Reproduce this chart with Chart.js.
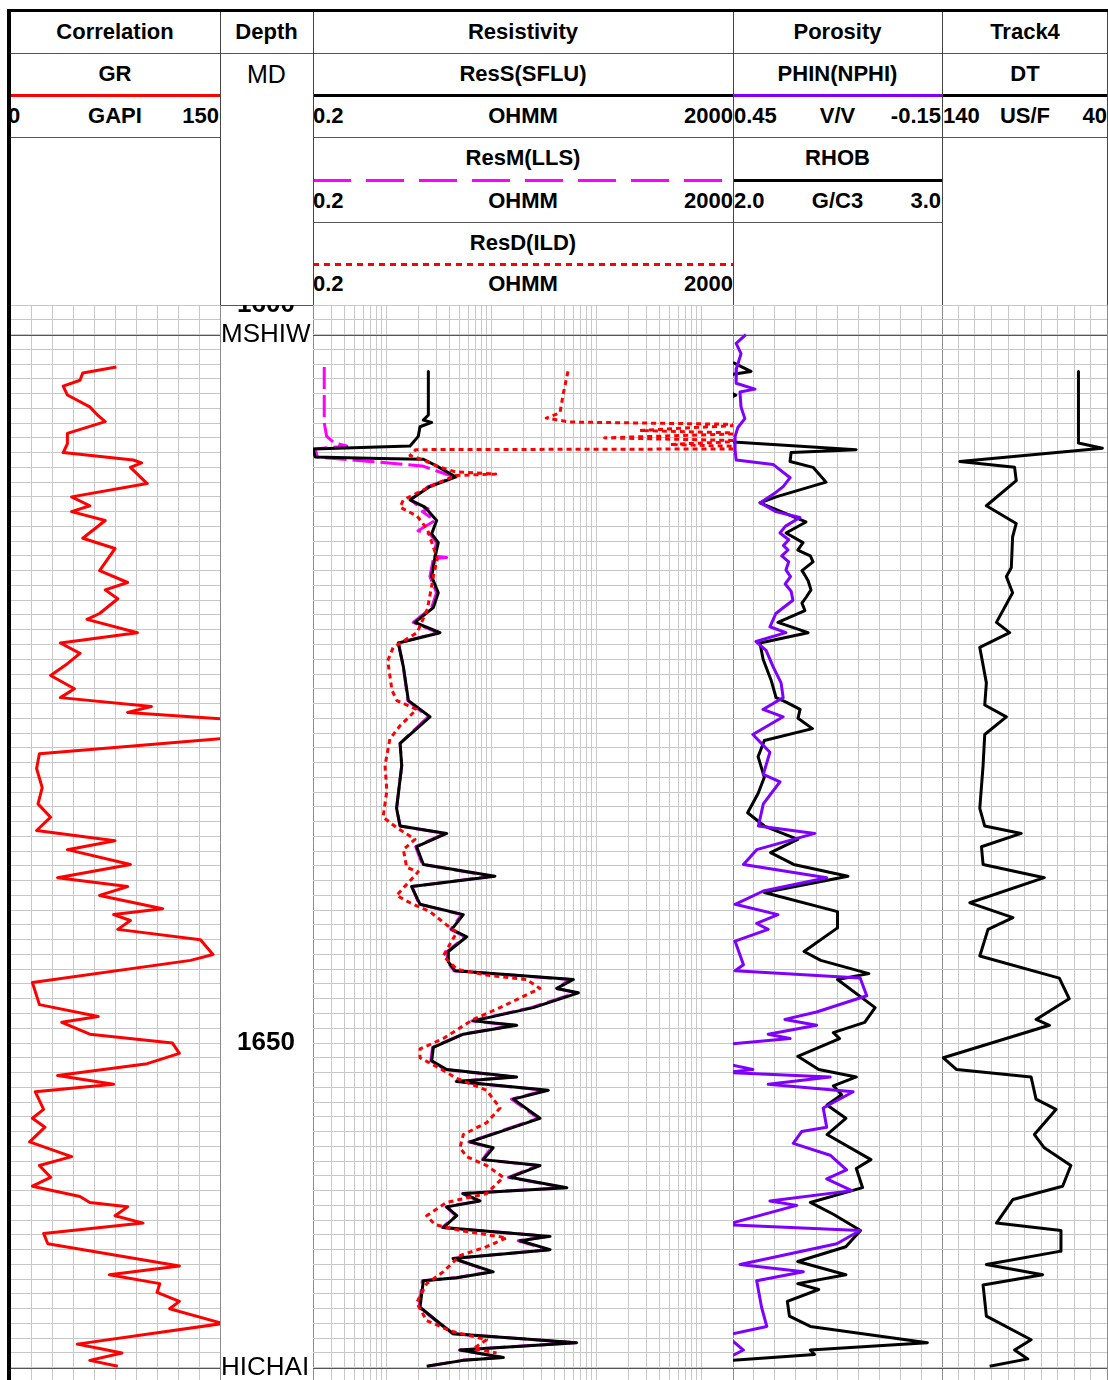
<!DOCTYPE html>
<html>
<head>
<meta charset="utf-8">
<title>Well log</title>
<script src="https://cdn.jsdelivr.net/npm/chart.js@4.4.1/dist/chart.umd.min.js"></script>
<style>
  html, body { margin: 0; padding: 0; background: #fff; }
  body { width: 1108px; height: 1380px; position: relative; overflow: hidden; font-family: "Liberation Sans", Arial, sans-serif; }
  .txt { position: absolute; height: 42px; line-height: 42px; font-size: 22px; font-weight: bold; color: #000; white-space: nowrap; }
  .c { text-align: center; }
  .l { text-align: left; }
  .r { text-align: right; }
  .hl { position: absolute; height: 1px; background: #555; }
  .vl { position: absolute; width: 1px; background: #444; }
  .bar { position: absolute; height: 3px; }
  canvas { position: absolute; top: 305px; }
  .frame { position: absolute; background: #000; z-index: 5; }
</style>
</head>
<body>

<!-- header: titles -->
<div class="txt c" style="left:10px;width:210px;top:11px">Correlation</div>
<div class="txt c" style="left:220px;width:93px;top:11px">Depth</div>
<div class="txt c" style="left:313px;width:420px;top:11px">Resistivity</div>
<div class="txt c" style="left:733px;width:209px;top:11px">Porosity</div>
<div class="txt c" style="left:942px;width:166px;top:11px">Track4</div>

<!-- curve names -->
<div class="txt c" style="left:10px;width:210px;top:53px">GR</div>
<div class="txt c" style="left:220px;width:93px;top:53px;font-weight:normal;font-size:25px">MD</div>
<div class="txt c" style="left:313px;width:420px;top:53px">ResS(SFLU)</div>
<div class="txt c" style="left:733px;width:209px;top:53px">PHIN(NPHI)</div>
<div class="txt c" style="left:942px;width:166px;top:53px">DT</div>

<!-- scale rows -->
<div class="txt l" style="left:8px;width:212px;top:95px">0</div>
<div class="txt c" style="left:10px;width:210px;top:95px">GAPI</div>
<div class="txt r" style="left:10px;width:209px;top:95px">150</div>

<div class="txt l" style="left:313px;width:420px;top:95px">0.2</div>
<div class="txt c" style="left:313px;width:420px;top:95px">OHMM</div>
<div class="txt r" style="left:313px;width:420px;top:95px">2000</div>

<div class="txt l" style="left:734px;width:208px;top:95px">0.45</div>
<div class="txt c" style="left:733px;width:209px;top:95px">V/V</div>
<div class="txt r" style="left:733px;width:208px;top:95px">-0.15</div>

<div class="txt l" style="left:943px;width:165px;top:95px">140</div>
<div class="txt c" style="left:942px;width:166px;top:95px">US/F</div>
<div class="txt r" style="left:942px;width:165px;top:95px">40</div>

<div class="txt c" style="left:313px;width:420px;top:137px">ResM(LLS)</div>
<div class="txt c" style="left:733px;width:209px;top:137px">RHOB</div>

<div class="txt l" style="left:313px;width:420px;top:180px">0.2</div>
<div class="txt c" style="left:313px;width:420px;top:180px">OHMM</div>
<div class="txt r" style="left:313px;width:420px;top:180px">2000</div>
<div class="txt l" style="left:734px;width:208px;top:180px">2.0</div>
<div class="txt c" style="left:733px;width:209px;top:180px">G/C3</div>
<div class="txt r" style="left:733px;width:208px;top:180px">3.0</div>

<div class="txt c" style="left:313px;width:420px;top:222px">ResD(ILD)</div>

<div class="txt l" style="left:313px;width:420px;top:263px">0.2</div>
<div class="txt c" style="left:313px;width:420px;top:263px">OHMM</div>
<div class="txt r" style="left:313px;width:420px;top:263px">2000</div>

<!-- header lines -->
<div class="hl" style="left:10px;width:1098px;top:53px"></div>
<div class="hl" style="left:10px;width:210px;top:137px"></div>
<div class="hl" style="left:313px;width:795px;top:137px"></div>
<div class="hl" style="left:313px;width:629px;top:222px"></div>
<div class="hl" style="left:220px;width:93px;top:305px"></div>

<div class="bar" style="left:10px;width:210px;top:94px;background:#ff0000"></div>
<div class="bar" style="left:313px;width:420px;top:94px;background:#000"></div>
<div class="bar" style="left:733px;width:209px;top:94px;background:#7f00ff"></div>
<div class="bar" style="left:942px;width:166px;top:94px;background:#000"></div>
<div class="bar" style="left:313px;width:420px;top:179px;background:repeating-linear-gradient(90deg,#ff00ff 0 38px,transparent 38px 53px)"></div>
<div class="bar" style="left:733px;width:209px;top:179px;background:#000"></div>
<div class="bar" style="left:313px;width:420px;top:263px;background:repeating-linear-gradient(90deg,#ff0000 0 6px,transparent 6px 11px)"></div>

<div class="vl" style="left:220px;top:11px;height:294px"></div>
<div class="vl" style="left:313px;top:11px;height:294px"></div>
<div class="vl" style="left:733px;top:11px;height:294px"></div>
<div class="vl" style="left:942px;top:11px;height:294px"></div>
<div class="vl" style="left:1107px;top:11px;height:294px"></div>

<!-- tracks -->
<canvas id="grTrack" width="211" height="1075" style="left:10px"></canvas>
<canvas id="depthTrack" width="93" height="1075" style="left:220px"></canvas>
<canvas id="resTrack" width="421" height="1075" style="left:313px"></canvas>
<canvas id="porTrack" width="210" height="1075" style="left:733px"></canvas>
<canvas id="dtTrack" width="166" height="1075" style="left:942px"></canvas>

<div class="frame" style="left:7px;top:9px;width:1101px;height:3px"></div>
<div class="frame" style="left:7px;top:9px;width:4px;height:1371px"></div>

<script>
// depth window and markers
const depthTop = 1600;
const depthBottom = 1672.83;
const depthLabels = [1600, 1650];
const markerNames = ['MSHIW', 'HICHAI'];
const markerDepths = [1602, 1672];

// GR (GAPI)
const grDepth = [1604.2,1604.6,1605.1,1605.5,1606.1,1606.9,1607.5,1607.9,1608.7,1609.4,1610.0,1610.5,1610.7,1611.0,1612.1,1613.0,1613.6,1614.0,1614.6,1615.8,1616.5,1618.0,1618.8,1619.3,1619.9,1620.9,1621.3,1622.2,1622.9,1623.6,1624.3,1625.1,1626.0,1626.6,1627.2,1627.6,1628.1,1629.3,1630.4,1631.4,1632.7,1633.8,1634.7,1635.6,1636.3,1636.9,1637.9,1638.8,1639.4,1640.0,1640.9,1641.3,1641.7,1642.3,1643.0,1644.0,1644.4,1645.9,1647.4,1648.2,1648.6,1649.4,1650.0,1650.7,1651.4,1652.2,1652.8,1653.3,1654.5,1655.1,1655.7,1656.7,1657.7,1658.3,1659.1,1659.7,1660.4,1660.8,1661.1,1661.7,1662.2,1662.9,1663.6,1665.1,1665.7,1666.3,1666.9,1667.5,1668.0,1669.0,1670.4,1670.7,1671.0,1671.5,1671.9];
const grValue = [76,52,50,38,41,57,63,68,41,41,38,88,94,86,98,44,57,44,68,52,75,64,84,68,77,64,55,91,36,50,41,29,46,36,101,84,160,160,21,19,23,20,29,19,75,41,86,34,84,64,109,74,86,77,136,145,129,16,21,63,37,57,116,121,98,34,74,18,24,16,25,14,44,21,29,16,50,57,84,75,95,24,27,121,71,107,105,121,114,152,48,64,80,57,77];

// ResS (SFLU), OHMM
const sfluDepth = [1604.5,1607.45,1607.8,1607.95,1608.25,1608.9,1609.55,1609.75,1610.3,1610.4,1610.45,1610.9,1611.65,1612.3,1613.2,1613.7,1614.6,1615.5,1616.1,1617.1,1618.4,1619.5,1620.5,1621.5,1622.2,1622.9,1624.5,1626.8,1627.9,1629.7,1631.2,1634.1,1635.3,1635.8,1636.7,1637.9,1638.7,1639.4,1640.6,1641.3,1642.3,1642.8,1643.8,1644.5,1645.1,1645.7,1646.3,1646.6,1647.6,1648.5,1648.8,1649.4,1650.3,1651.2,1651.8,1652.3,1652.6,1653.2,1653.8,1655.1,1656.7,1657.1,1657.9,1658.3,1659.1,1659.8,1660.2,1660.7,1661.1,1661.7,1662.5,1663.1,1663.4,1664.0,1664.6,1665.5,1665.9,1666.1,1667.9,1669.0,1669.7,1670.3,1670.8,1671.3,1671.5,1671.9];
const sfluValue = [2.51,2.51,2.25,2.70,2.09,2.01,1.68,0.20,0.21,0.87,2.25,3.0,4.6,2.6,1.68,2.33,3.01,2.70,3.12,2.90,2.70,3.12,2.80,1.87,3.24,1.30,1.45,1.62,2.60,1.35,1.40,1.25,1.35,3.75,1.94,2.25,10.8,1.74,2.09,5.40,4.19,5.82,3.89,3.89,4.50,60.3,41.9,67.3,25.1,6.73,17.4,5.40,2.80,2.70,3.75,17.4,4.68,34.8,16.2,29.0,6.25,10.4,8.38,29.0,15.0,52.2,5.40,7.78,3.75,4.68,3.48,36.2,18.7,36.2,4.34,10.4,4.68,2.25,2.09,3.24,4.34,64.9,5.02,13.0,5.40,2.42];

// ResM (LLS), OHMM
const llsDepth = [1604.2,1608.0,1608.9,1609.35,1609.55,1609.75,1610.3,1610.6,1610.9,1611.65,1612.3,1613.2,1613.6,1613.8,1614.0,1614.6,1615.3,1615.5,1616.1,1617.0,1617.1,1617.2,1618.4,1619.5,1620.5,1621.5,1622.2,1622.9,1624.5,1626.8,1627.9,1629.7,1631.2,1634.1,1635.3,1635.8,1636.7,1637.9,1638.7,1639.4,1640.6,1641.3,1642.3,1642.8,1643.8,1644.5,1645.1,1645.7,1646.3,1646.6,1647.6,1648.5,1648.8,1649.4,1650.3,1651.2,1651.8,1652.3,1652.6,1653.2,1653.8,1655.1,1656.7,1657.1,1657.9,1658.3,1659.1,1659.8,1660.2,1660.7,1661.1,1661.7,1662.5,1663.1,1663.4,1664.0,1664.6,1665.5,1665.9,1666.1,1667.9,1669.0,1669.7,1670.3,1670.8,1671.3,1671.5,1671.9];
const llsValue = [0.256,0.256,0.27,0.32,0.42,0.21,0.22,0.7,2.2,4.4,2.5,1.7,2.0,2.5,2.2,2.9,2.0,2.6,3.0,2.8,3.75,2.8,2.6,3.0,2.7,1.8,3.1,1.3,1.45,1.6,2.5,1.35,1.4,1.25,1.35,3.6,1.9,2.2,10.0,1.75,2.05,5.2,4.1,5.6,3.8,3.8,4.4,56,42,64,24,6.5,16.5,5.3,2.75,2.65,3.6,16.5,4.6,33,15.5,28,6.1,10,8.2,28,14.5,50,5.3,7.6,3.7,4.6,3.4,35,18,35,4.3,10,4.6,2.2,2.05,3.2,4.3,62,5.0,12.5,5.3,2.4];

// ResD (ILD), OHMM
const ildDepth = [1604.5,1606.0,1607.3,1607.66,1607.93,1608.1,1608.5,1608.7,1609.0,1609.2,1609.45,1609.6,1609.75,1609.8,1610.2,1610.5,1610.9,1611.3,1611.45,1611.55,1612.3,1613.2,1613.7,1614.3,1615.2,1617.2,1618.4,1620.6,1622.2,1623.2,1624.1,1626.1,1626.8,1627.4,1628.5,1629.4,1631.2,1632.9,1634.7,1635.4,1636.2,1636.9,1638.1,1638.4,1640.0,1640.5,1641.1,1642.0,1642.5,1644.1,1645.0,1645.4,1645.7,1646.3,1647.6,1648.4,1649.7,1650.4,1651.0,1651.6,1652.4,1653.2,1654.4,1655.4,1656.2,1657.1,1657.7,1658.3,1659.1,1660.2,1660.8,1661.7,1662.3,1662.7,1663.2,1663.8,1664.4,1665.5,1666.3,1667.6,1668.8,1669.5,1670.1,1670.7,1671.0];
const ildValue = [53.6,48.4,45,33.3,55.8,3000,260,3000,120,3000,500,3000,3000,1.9,1.68,2.25,3.0,4.5,11,4.6,2.6,1.45,1.35,1.96,2.46,3.05,2.8,2.46,1.96,1.16,1.03,1.13,1.26,1.94,1.35,1.08,0.97,1.01,0.93,1.25,1.87,1.45,1.56,2.01,1.25,1.68,2.6,3.75,4.68,3.48,4.68,9.0,21.7,29.0,12.1,6.73,3.48,2.09,2.09,3.01,4.68,9.0,12.1,9.0,5.4,5.02,5.82,9.0,13.0,9.0,3.75,2.42,2.9,5.02,14.0,9.0,5.02,3.48,2.42,1.94,2.42,4.03,9.0,6.73,11.2];

// PHIN (NPHI), V/V
const nphiDepth = [1602.0,1602.6,1603.3,1604.3,1605.3,1605.7,1605.9,1606.9,1607.7,1608.3,1608.9,1609.8,1610.5,1610.8,1611.7,1612.3,1612.7,1613.4,1614.0,1614.4,1615.0,1615.45,1615.9,1616.3,1616.6,1617.0,1617.4,1617.95,1618.4,1618.9,1619.4,1620.0,1620.9,1621.8,1622.2,1622.8,1623.4,1624.5,1625.6,1626.6,1627.4,1627.9,1629.1,1630.3,1631.8,1632.3,1633.8,1635.3,1635.8,1636.9,1637.9,1638.8,1639.7,1640.6,1641.3,1641.9,1642.3,1643.1,1644.7,1645.1,1645.6,1646.8,1647.9,1648.4,1648.8,1649.4,1649.7,1650.1,1651.4,1651.8,1652.0,1652.3,1652.8,1653.3,1654.4,1655.7,1656.0,1656.8,1657.6,1658.6,1659.2,1660.0,1660.7,1661.0,1662.3,1662.7,1663.6,1665.0,1665.5,1666.1,1667.9,1669.2,1669.8,1670.8,1671.4];
const nphiValue = [0.413,0.441,0.427,0.44,0.441,0.387,0.43,0.427,0.416,0.436,0.444,0.444,0.441,0.335,0.286,0.306,0.327,0.372,0.327,0.258,0.30,0.315,0.29,0.305,0.292,0.31,0.29,0.298,0.285,0.30,0.283,0.278,0.327,0.344,0.298,0.384,0.355,0.335,0.312,0.306,0.364,0.306,0.393,0.344,0.363,0.315,0.363,0.377,0.215,0.382,0.42,0.181,0.363,0.444,0.321,0.382,0.349,0.444,0.42,0.444,0.085,0.066,0.210,0.301,0.210,0.349,0.286,0.47,0.47,0.393,0.47,0.171,0.349,0.105,0.191,0.181,0.253,0.277,0.171,0.124,0.181,0.109,0.344,0.267,0.47,0.085,0.152,0.43,0.248,0.382,0.368,0.353,0.47,0.42,0.47];

// RHOB, G/C3
const rhobDepth = [1603.9,1604.5,1604.7,1605.0,1605.9,1606.1,1606.3,1609.2,1609.28,1609.8,1610.0,1610.6,1611.0,1612.0,1613.0,1613.4,1614.7,1615.45,1616.1,1616.6,1617.0,1617.4,1618.0,1618.3,1618.7,1619.3,1619.8,1620.2,1620.7,1621.5,1622.2,1622.9,1624.0,1625.4,1626.6,1626.9,1627.4,1628.0,1628.7,1629.5,1630.6,1632.0,1633.1,1634.4,1635.3,1636.2,1637.1,1637.9,1638.7,1639.8,1641.1,1642.2,1643.8,1644.4,1645.3,1645.7,1647.6,1648.6,1649.3,1649.7,1650.9,1651.8,1652.3,1652.9,1653.5,1654.2,1655.1,1656.2,1657.9,1658.5,1659.8,1660.8,1661.6,1662.7,1663.8,1664.8,1665.7,1666.3,1666.7,1667.5,1668.5,1669.2,1670.3,1670.8,1671.1,1671.5,1671.55];
const rhobValue = [2.0,2.086,2.0,1.97,1.98,2.014,1.98,1.97,2.0,2.589,2.278,2.273,2.383,2.445,2.206,2.129,2.349,2.254,2.335,2.31,2.37,2.383,2.33,2.344,2.36,2.373,2.35,2.33,2.344,2.215,2.359,2.129,2.144,2.182,2.206,2.254,2.321,2.311,2.38,2.15,2.12,2.15,2.12,2.07,2.15,2.31,2.18,2.29,2.55,2.15,2.50,2.50,2.34,2.42,2.65,2.50,2.68,2.63,2.48,2.51,2.31,2.41,2.59,2.48,2.52,2.45,2.54,2.45,2.66,2.59,2.62,2.37,2.48,2.61,2.54,2.31,2.54,2.31,2.41,2.26,2.27,2.37,2.93,2.37,2.39,2.0,1.95];

// DT, US/F
const dtDepth = [1604.5,1609.35,1609.7,1610.6,1611.0,1611.9,1613.6,1614.8,1615.7,1617.8,1618.4,1619.5,1621.5,1622.2,1623.2,1625.6,1627.1,1627.9,1629.1,1631.2,1634.1,1635.3,1635.8,1636.7,1637.9,1638.8,1640.5,1641.5,1642.3,1644.1,1645.6,1647.0,1648.4,1648.8,1651.0,1651.8,1652.3,1653.8,1654.5,1656.2,1657.1,1658.3,1659.7,1660.6,1662.2,1662.7,1664.1,1665.0,1665.7,1666.4,1668.5,1670.1,1670.8,1671.4,1671.9];
const dtValue = [57.3,57.3,42.8,129.2,96.0,95.0,113.1,95.0,97.2,98.0,101.0,97.2,107.0,99.0,117.1,113.1,114.1,101.0,114.1,115.1,117.1,114.1,92.0,116.1,115.1,78.0,123.1,97.0,112.1,117.1,68.9,62.9,83.0,74.9,139.2,131.1,86.0,83.0,70.9,84.0,78.0,61.9,66.9,97.0,107.0,67.9,67.9,113.1,79.0,115.1,113.1,86.0,96.0,88.0,111.1];

// grid positions
const depthGrid = [];
for (let d = depthTop; d <= 1672; d++) depthGrid.push(d);

function evenSteps(min, max, n) {
    const out = [];
    for (let i = 0; i <= n; i++) out.push(min + (max - min) * i / n);
    return out;
}

function logSteps(min, max) {
    const out = [min];
    for (let e = -1; e <= 3; e++) {
        for (let k = 1; k <= 9; k++) {
            const v = +(k * Math.pow(10, e)).toPrecision(3);
            if (v > min && v < max) out.push(v);
        }
    }
    out.push(max);
    return out;
}

function gridColor(ctx) {
    const n = ctx.scale.ticks.length;
    return (ctx.index === 0 || ctx.index === n - 1) ? '#8c8c8c' : '#c8c8c8';
}

function xAxis(opts, gridValues) {
    return Object.assign({
        display: true,
        grid: { display: true, color: gridColor, lineWidth: 1, drawTicks: false },
        border: { display: false },
        ticks: { display: false },
        afterBuildTicks: axis => { axis.ticks = gridValues.map(v => ({ value: v })); }
    }, opts);
}

function yAxis(showGrid) {
    return {
        type: 'linear', min: depthTop, max: depthBottom, reverse: true,
        display: showGrid,
        grid: { display: showGrid, color: '#c8c8c8', lineWidth: 1, drawTicks: false },
        border: { display: false },
        ticks: { display: false },
        afterBuildTicks: axis => { axis.ticks = depthGrid.map(v => ({ value: v })); }
    };
}

function curve(depths, values, color, width, dash, axisId, order) {
    return {
        data: depths.map((d, i) => ({ x: values[i], y: d })),
        borderColor: color,
        borderWidth: width,
        borderDash: dash || [],
        borderJoinStyle: 'round',
        showLine: true,
        pointRadius: 0,
        fill: false,
        tension: 0,
        clip: 0,
        xAxisID: axisId || 'x',
        order: order || 0
    };
}

// formation tops across the curve tracks
const markerLines = {
    id: 'markerLines',
    beforeDatasetsDraw(chart) {
        const { ctx, chartArea, scales: { y } } = chart;
        ctx.save();
        ctx.strokeStyle = '#555';
        ctx.lineWidth = 1;
        markerDepths.forEach(d => {
            const py = Math.round(y.getPixelForValue(d)) + 0.5;
            ctx.beginPath();
            ctx.moveTo(chartArea.left, py);
            ctx.lineTo(chartArea.right, py);
            ctx.stroke();
        });
        ctx.restore();
    }
};

// depth numbers and top names
const depthText = {
    id: 'depthText',
    afterDraw(chart) {
        const { ctx, chartArea, scales: { y } } = chart;
        ctx.save();
        ctx.fillStyle = '#000';
        ctx.textBaseline = 'middle';
        ctx.font = 'bold 26px "Liberation Sans", Arial, sans-serif';
        ctx.textAlign = 'center';
        depthLabels.forEach(d => ctx.fillText(String(d), (chartArea.left + chartArea.right) / 2, y.getPixelForValue(d)));
        ctx.font = '26px "Liberation Sans", Arial, sans-serif';
        ctx.textAlign = 'left';
        markerNames.forEach((name, i) => ctx.fillText(name, chartArea.left + 1, y.getPixelForValue(markerDepths[i])));
        ctx.restore();
    }
};

function makeChart(id, datasets, scales, plugins) {
    return new Chart(document.getElementById(id), {
        type: 'scatter',
        data: { datasets: datasets },
        options: {
            responsive: false,
            animation: false,
            events: [],
            layout: { padding: { right: 1 } },
            plugins: { legend: { display: false }, tooltip: { enabled: false } },
            scales: scales
        },
        plugins: plugins
    });
}

makeChart('grTrack',
    [curve(grDepth, grValue, '#ff0000', 3)],
    { x: xAxis({ type: 'linear', min: 0, max: 150 }, evenSteps(0, 150, 10)), y: yAxis(true) },
    [markerLines]);

makeChart('depthTrack', [],
    { x: { type: 'linear', min: 0, max: 1, display: false }, y: yAxis(false) },
    [depthText]);

makeChart('resTrack',
    [
        curve(ildDepth, ildValue, '#ff0000', 3, [5, 4], 'x', 0),
        curve(sfluDepth, sfluValue, '#000000', 3, [], 'x', 1),
        curve(llsDepth, llsValue, '#ff00ff', 3, [22, 6], 'x', 2)
    ],
    { x: xAxis({ type: 'logarithmic', min: 0.2, max: 2000 }, logSteps(0.2, 2000)), y: yAxis(true) },
    [markerLines]);

makeChart('porTrack',
    [
        curve(nphiDepth, nphiValue, '#7f00ff', 3, [], 'x', 0),
        curve(rhobDepth, rhobValue, '#000000', 3, [], 'x2', 1)
    ],
    {
        x: xAxis({ type: 'linear', min: -0.15, max: 0.45, reverse: true }, evenSteps(-0.15, 0.45, 10)),
        x2: { type: 'linear', axis: 'x', position: 'top', min: 2, max: 3, display: false },
        y: yAxis(true)
    },
    [markerLines]);

makeChart('dtTrack',
    [curve(dtDepth, dtValue, '#000000', 3)],
    { x: xAxis({ type: 'linear', min: 40, max: 140, reverse: true }, evenSteps(40, 140, 10)), y: yAxis(true) },
    [markerLines]);
</script>
</body>
</html>
